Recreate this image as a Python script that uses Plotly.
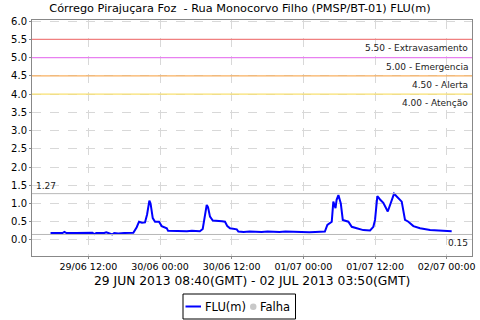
import plotly.graph_objects as go

# Data (local time GMT-3), FLU(m)
times = [
    "2013-06-29 05:40", "2013-06-29 06:30", "2013-06-29 07:40", "2013-06-29 08:00", "2013-06-29 08:20",
    "2013-06-29 10:00", "2013-06-29 11:40", "2013-06-29 12:00", "2013-06-29 12:20", "2013-06-29 12:40",
    "2013-06-29 13:00", "2013-06-29 13:20", "2013-06-29 14:40", "2013-06-29 15:00", "2013-06-29 15:20",
    "2013-06-29 16:00", "2013-06-29 16:20", "2013-06-29 17:00", "2013-06-29 18:00", "2013-06-29 19:19",
    "2013-06-29 19:32", "2013-06-29 20:06", "2013-06-29 20:29", "2013-06-29 20:59", "2013-06-29 21:29",
    "2013-06-29 21:50", "2013-06-29 22:13", "2013-06-29 22:25", "2013-06-29 22:47", "2013-06-29 23:10",
    "2013-06-29 23:50", "2013-06-30 00:17", "2013-06-30 01:08", "2013-06-30 01:21", "2013-06-30 02:30",
    "2013-06-30 03:30", "2013-06-30 04:30", "2013-06-30 05:20", "2013-06-30 06:00", "2013-06-30 06:40",
    "2013-06-30 07:09", "2013-06-30 07:32", "2013-06-30 07:49", "2013-06-30 08:02", "2013-06-30 08:22",
    "2013-06-30 08:50", "2013-06-30 09:43", "2013-06-30 10:23", "2013-06-30 10:53", "2013-06-30 11:16",
    "2013-06-30 11:43", "2013-06-30 12:51", "2013-06-30 13:07", "2013-06-30 14:00", "2013-06-30 15:00",
    "2013-06-30 16:00", "2013-06-30 17:00", "2013-06-30 18:00", "2013-06-30 19:00", "2013-06-30 20:00",
    "2013-06-30 21:00", "2013-06-30 22:00", "2013-06-30 23:00", "2013-07-01 00:00", "2013-07-01 01:00",
    "2013-07-01 02:00", "2013-07-01 03:00", "2013-07-01 03:36", "2013-07-01 04:01", "2013-07-01 04:45",
    "2013-07-01 05:01", "2013-07-01 05:23", "2013-07-01 05:34", "2013-07-01 05:52", "2013-07-01 06:16",
    "2013-07-01 06:36", "2013-07-01 07:32", "2013-07-01 08:06", "2013-07-01 08:56", "2013-07-01 10:02",
    "2013-07-01 11:10", "2013-07-01 11:43", "2013-07-01 12:00", "2013-07-01 12:23", "2013-07-01 12:50",
    "2013-07-01 13:23", "2013-07-01 14:08", "2013-07-01 14:31", "2013-07-01 15:11", "2013-07-01 15:38",
    "2013-07-01 16:28", "2013-07-01 17:01", "2013-07-01 17:35", "2013-07-01 18:25", "2013-07-01 19:32",
    "2013-07-01 21:13", "2013-07-01 22:53", "2013-07-02 00:50",
]
flu = [
    0.19, 0.19, 0.19, 0.22, 0.19,
    0.19, 0.19, 0.21, 0.19, 0.20,
    0.16, 0.19, 0.19, 0.21, 0.19,
    0.15, 0.19, 0.18, 0.19, 0.19,
    0.20, 0.35, 0.50, 0.47, 0.48,
    0.70, 1.08, 1.00, 0.60, 0.50,
    0.50, 0.38, 0.32, 0.25, 0.24,
    0.23, 0.24, 0.25, 0.24, 0.24,
    0.30, 0.70, 0.96, 0.90, 0.64,
    0.53, 0.53, 0.51, 0.50, 0.38,
    0.32, 0.29, 0.23, 0.22, 0.23,
    0.22, 0.22, 0.23, 0.22, 0.22,
    0.23, 0.22, 0.21, 0.20, 0.21,
    0.22, 0.22, 0.23, 0.41, 0.50,
    1.05, 0.87, 1.10, 1.23, 1.00,
    0.55, 0.50, 0.36, 0.32, 0.27,
    0.26, 0.36, 0.55, 1.20, 1.11,
    1.02, 0.78, 0.96, 1.27, 1.19,
    1.05, 0.55, 0.50, 0.38, 0.32,
    0.27, 0.25, 0.24,
]

levels = [5.50, 5.00, 4.50, 4.00]
level_names = ["Extravasamento", "Emergencia", "Alerta", "Atenção"]
level_colors = ["#f08080", "#e880f0", "#f8b060", "#f8e070"]
max_val = 1.27
min_val = 0.15
legend_names = ["FLU(m)", "Falha"]

FONT = "DejaVu Sans"
ML, MR, MT, MB = 32, 8, 20, 64
W, H = 480, 320
PW, PH = W - ML - MR, H - MT - MB


def px_x(p):  # pixel -> paper x
    return (p - ML) / PW


def px_y(p):  # pixel -> paper y
    return (H - MB - p) / PH


fig = go.Figure()
fig.add_trace(go.Scatter(x=times, y=flu, mode="lines", name=legend_names[0],
                         line=dict(color="#0000ff", width=2), showlegend=False))

for lv, nm, col in zip(levels, level_names, level_colors):
    fig.add_hline(y=lv, line=dict(color=col, width=1.3))
    fig.add_annotation(x=0.995, xref="paper", y=lv, yref="y", yshift=-2,
                       text=f"{lv:.2f} - {nm}", showarrow=False,
                       xanchor="right", yanchor="top",
                       font=dict(family=FONT, size=9, color="#222"))

fig.add_hline(y=max_val, line=dict(color="#b8b8b8", width=1))
fig.add_hline(y=min_val, line=dict(color="#b8b8b8", width=1))
fig.add_annotation(x=0.005, xref="paper", y=max_val, yref="y", yshift=1,
                   text=f"{max_val:.2f}", showarrow=False, xanchor="left", yanchor="bottom",
                   font=dict(family=FONT, size=9, color="#222"))
fig.add_annotation(x=0.995, xref="paper", y=min_val, yref="y", yshift=-2,
                   text=f"{min_val:.2f}", showarrow=False, xanchor="right", yanchor="top",
                   font=dict(family=FONT, size=9, color="#222"))

# x-axis title as annotation (keeps plot area fixed)
fig.add_annotation(x=0.5, xref="paper", y=px_y(281), yref="paper",
                   text="29 JUN 2013 08:40(GMT) - 02 JUL 2013 03:50(GMT)",
                   showarrow=False, xanchor="center", yanchor="middle",
                   font=dict(family=FONT, size=12.3, color="#000"))

# legend box
fig.add_shape(type="rect", xref="paper", yref="paper",
              x0=px_x(183), x1=px_x(295.5), y0=px_y(294), y1=px_y(319),
              line=dict(color="#000", width=1), fillcolor="white")
fig.add_shape(type="line", xref="paper", yref="paper",
              x0=px_x(185.5), x1=px_x(201), y0=px_y(306.5), y1=px_y(306.5),
              line=dict(color="#0000ff", width=2))
fig.add_shape(type="circle", xref="paper", yref="paper",
              x0=px_x(250), x1=px_x(256.5), y0=px_y(303.5), y1=px_y(310),
              line=dict(color="#c8c8c8", width=0), fillcolor="#c8c8c8")
fig.add_annotation(x=px_x(203), xref="paper", y=px_y(306.5), yref="paper",
                   text=legend_names[0], showarrow=False, xanchor="left", yanchor="middle",
                   font=dict(family=FONT, size=11.5, color="#000"))
fig.add_annotation(x=px_x(257.5), xref="paper", y=px_y(306.5), yref="paper",
                   text=legend_names[1], showarrow=False, xanchor="left", yanchor="middle",
                   font=dict(family=FONT, size=11.5, color="#000"))

fig.update_layout(
    width=W, height=H,
    margin=dict(l=ML, r=MR, t=MT, b=MB, autoexpand=False),
    paper_bgcolor="white", plot_bgcolor="white",
    title=dict(text="Córrego Pirajuçara Foz  - Rua Monocorvo Filho (PMSP/BT-01) FLU(m)",
               x=0.5, xanchor="center", y=1 - 8.5 / H, yanchor="middle",
               font=dict(family=FONT, size=11.3, color="#000")),
    font=dict(family=FONT, size=9, color="#000"),
    showlegend=False,
)
fig.update_xaxes(
    type="date", range=["2013-06-29 02:34", "2013-07-02 04:14"],
    tick0="2013-06-29 00:00", dtick=43200000, tickformat="%d/%m %H:%M",
    showgrid=True, gridcolor="#d8d8d8", griddash="dash", gridwidth=1,
    showline=True, linecolor="#888", mirror=True, ticks="outside", ticklen=2, tickcolor="#888",
    tickfont=dict(family=FONT, size=9.5), zeroline=False, automargin=False,
)
fig.update_yaxes(
    range=[-0.44, 6.03], tick0=0, dtick=0.5, tickformat=".1f",
    showgrid=True, gridcolor="#d8d8d8", griddash="dash", gridwidth=1,
    showline=True, linecolor="#888", mirror=True, ticks="outside", ticklen=2, tickcolor="#888",
    tickfont=dict(family=FONT, size=10), zeroline=False, automargin=False,
)

fig.write_html("out.html")
